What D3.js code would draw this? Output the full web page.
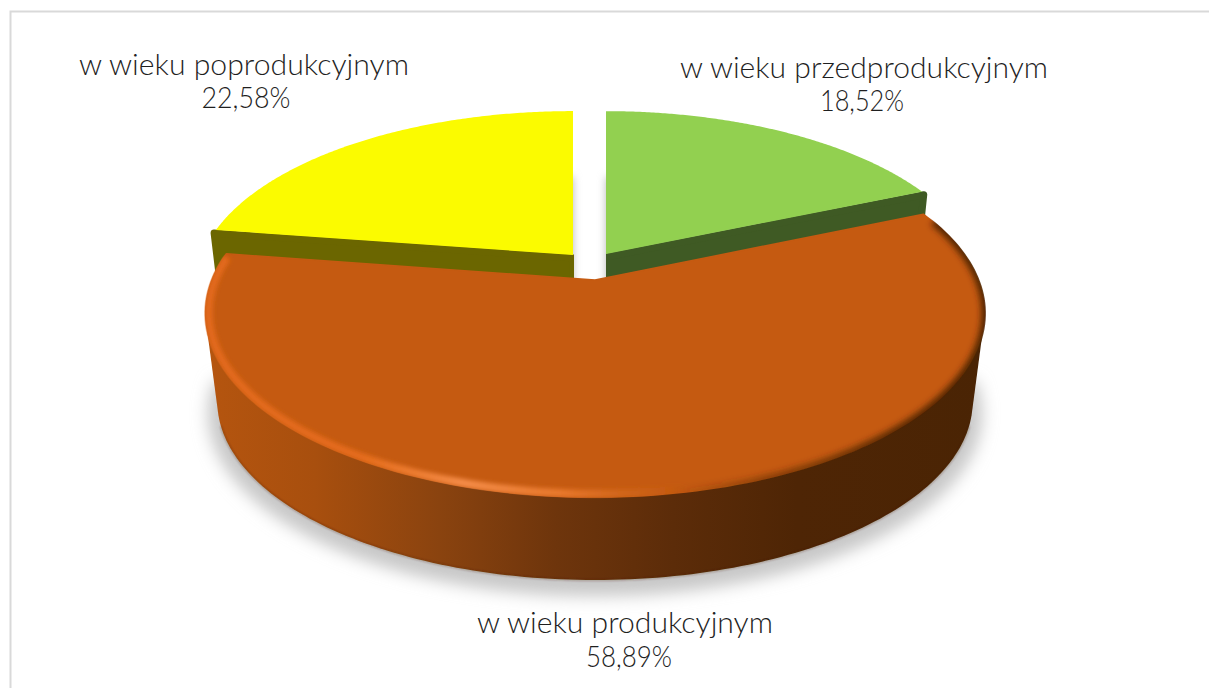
<!DOCTYPE html>
<html><head><meta charset="utf-8">
<script src="https://cdn.jsdelivr.net/npm/d3@7"></script>
<style>html,body{margin:0;padding:0;background:#fff;overflow:hidden}svg{display:block}
text{font-family:Lato,"Open Sans",sans-serif;font-size:29px;font-weight:300;fill:#1f1f1f;text-anchor:middle}</style>
</head><body><svg id="c" width="1209" height="688"></svg>
<script>
const categories = ["w wieku przedprodukcyjnym","w wieku produkcyjnym","w wieku poprodukcyjnym"];
const values = [18.52,58.89,22.58];
const valueLabels = ["18,52%","58,89%","22,58%"];
const faceColors = ["#92d050","#c55a11","#fbfb00"];
const wallColors = ["#3f5a24",null,"#6b6600"];
const centers = [{x:606,y:254,s:.963,sy:.947},{x:595,y:280,s:1,sy:1},{x:573,y:255,s:.969,sy:.954}];
const labelPos = [[864,78,368,862,111,84],[625,633,296,629,667,86],[244,75,330,246,108,89]];

const W=1209,H=688,R=383,Ry=178,K=.18,depthY=89.5,depthS=.97;
const svg=d3.select("#c");
const defs=svg.append("defs");
const arcs=d3.pie().sort(null).value(d=>d)(values);
const line=d3.line();
function project(c,a){const u=Math.sin(a),v=Math.cos(a),w=1+K*v;
  return [c.x+R*c.s*u/w,c.y-Ry*c.sy*v/w];}
function arcPts(c,a0,a1){return d3.range(0,161).map(i=>project(c,a0+(a1-a0)*i/160));}
const lower=c=>({x:c.x,y:c.y+depthY,s:c.s*depthS,sy:c.sy*depthS});
function blur(id,sd){defs.append("filter").attr("id",id)
  .attr("x","-20%").attr("y","-20%").attr("width","140%").attr("height","140%")
  .append("feGaussianBlur").attr("stdDeviation",sd);}
blur("b10",8);blur("b6",4);blur("b3",3);blur("b2",2.2);blur("b1",1);
function grad(id,stops){const g=defs.append("linearGradient").attr("id",id)
  .attr("gradientUnits","userSpaceOnUse").attr("x1",206).attr("x2",984).attr("y1",0).attr("y2",0);
  stops.forEach(s=>g.append("stop").attr("offset",s[0]).attr("stop-color",s[1]).attr("stop-opacity",s[2]===undefined?1:s[2]));}
grad("wall",[[0,"#b5550f"],[.14,"#a84f0e"],[.3,"#8a430f"],[.45,"#6e350c"],[.6,"#5c2c09"],[.76,"#4e2505"],[1,"#4a2404"]]);
grad("rim",[[0,"#e2691a"],[.2,"#e56c1a"],[.33,"#f58c48"],[.46,"#e8782c"],[.56,"#d56a1c",.5],[.62,"#c55a11",0],[1,"#c55a11",0]]);
grad("rimDark",[[0,"#4d2404",0],[.6,"#4d2404",0],[.72,"#5a2a05",.55],[.88,"#4d2404",.9],[1,"#4d2404",1]]);

svg.append("rect").attr("x",10.5).attr("y",11.5).attr("width",W).attr("height",H)
  .attr("fill","#fff").attr("stroke","#d9d9d9").attr("stroke-width",2);

// soft ground shadow (front half only)
const oc=centers[1];
svg.append("path").attr("d",line(arcPts({x:oc.x,y:oc.y+depthY+11,s:depthS*1.025,sy:depthS*1.025},Math.PI*.5,Math.PI*1.5))+"Z")
  .attr("fill","#c8c8c8").attr("filter","url(#b10)");

// shadows of the two rear slices (visible in the gap)
[0,2].forEach(i=>{const c=centers[i],a=arcs[i],sc={...c,y:c.y+66};
  svg.append("path").attr("d",line([[sc.x,sc.y],...arcPts(sc,a.startAngle,a.endAngle)])+"Z")
   .attr("fill","#b8b8b8").attr("filter","url(#b6)");});

// rear slices
[0,2].forEach(i=>{
  const c=centers[i],a=arcs[i];
  const shifted={...c,y:c.y+3,s:c.s*1.005},b=lower(shifted);
  const cut=i===0?a.endAngle:a.startAngle;
  const quad=[[c.x,c.y+3],project(shifted,cut),project(b,cut),[b.x,b.y]];
  defs.append("clipPath").attr("id","wc"+i).append("rect")
    .attr("x",i===0?c.x:0).attr("y",0).attr("width",i===0?W-c.x:c.x+1).attr("height",H);
  svg.append("g").attr("clip-path",`url(#wc${i})`).append("path").attr("d",line(quad)+"Z").attr("fill",wallColors[i])
    .attr("stroke",wallColors[i]).attr("stroke-width",7).attr("stroke-linejoin","round");
  svg.append("path").attr("d",line([[c.x,c.y],...arcPts(c,a.startAngle,a.endAngle)])+"Z")
    .attr("fill",faceColors[i]);
});

// main slice: wall (outline is the hull of the visible front of both rims)
const a1=arcs[1],b1=lower(oc);
const topArc=arcPts(oc,a1.startAngle,a1.endAngle);
const frontTop=arcPts(oc,Math.PI*.5,Math.PI*1.5),frontBot=arcPts(b1,Math.PI*.5,Math.PI*1.5);
svg.append("path").attr("d",line(d3.polygonHull([...frontTop,...frontBot]))+"Z").attr("fill","url(#wall)");
const botMid=arcPts(b1,Math.PI*.6,Math.PI*1.4);
svg.append("path").attr("d",line(botMid)).attr("fill","none").attr("stroke","#4a2204")
  .attr("stroke-opacity",.4).attr("stroke-width",1.5).attr("filter","url(#b1)");

// main slice: face and bevel
const facePath=line([[oc.x,oc.y],...topArc])+"Z";
svg.append("path").attr("d",facePath).attr("fill",faceColors[1])
  .attr("stroke",faceColors[1]).attr("stroke-width",1.5).attr("stroke-linejoin","round");
const clipOuter={x:oc.x,y:oc.y,s:1.004,sy:1.005};
defs.append("clipPath").attr("id","faceClip").append("path")
  .attr("d",line([[oc.x,oc.y],...arcPts(clipOuter,a1.startAngle,a1.endAngle)])+"Z");
const bevel=svg.append("g").attr("clip-path","url(#faceClip)");
bevel.append("path")
  .attr("d",line(arcPts({x:oc.x,y:oc.y,s:.992,sy:.985},a1.startAngle+.06,a1.endAngle-.02)))
  .attr("fill","none").attr("stroke","url(#rim)").attr("stroke-width",8).attr("filter","url(#b2)");
bevel.append("path")
  .attr("d",line(arcPts({x:oc.x,y:oc.y,s:1.004,sy:1.005},a1.startAngle+.05,Math.PI)))
  .attr("fill","none").attr("stroke","url(#rimDark)").attr("stroke-width",9).attr("filter","url(#b3)");

// labels
categories.forEach((t,i)=>{const p=labelPos[i];
  svg.append("text").attr("x",p[0]).attr("y",p[1]).attr("textLength",p[2]).attr("lengthAdjust","spacingAndGlyphs").text(t);
  svg.append("text").attr("x",p[3]).attr("y",p[4]).attr("textLength",p[5]).attr("lengthAdjust","spacingAndGlyphs").text(valueLabels[i]);
});
</script></body></html>
